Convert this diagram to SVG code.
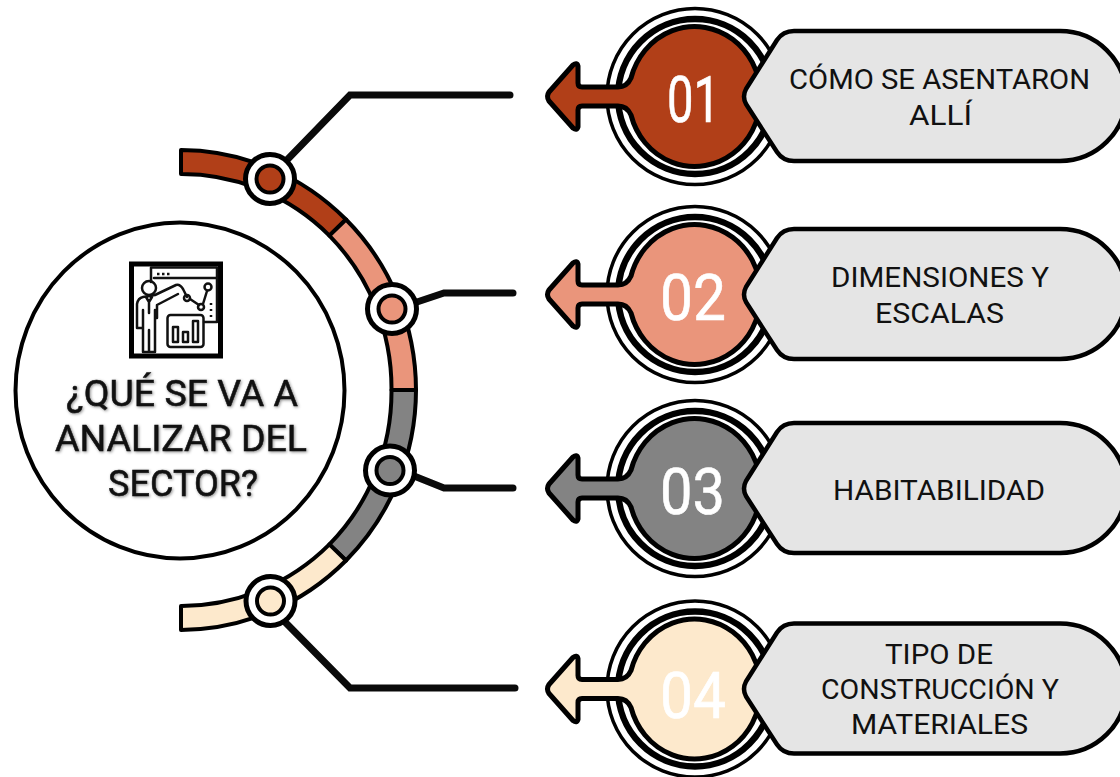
<svg xmlns="http://www.w3.org/2000/svg" xmlns:xlink="http://www.w3.org/1999/xlink" width="1120" height="777" viewBox="0 0 1120 777">
<style>
text{font-family:Roboto,"Liberation Sans",sans-serif;text-anchor:middle}
.t{font-size:28px;fill:#111}
.h{font-size:37px;font-weight:400;fill:#111;stroke:#111;stroke-width:.5px;filter:drop-shadow(1px 1px 1.5px rgba(0,0,0,.45))}
.n{font-size:64px;fill:#fff;stroke:#fff;stroke-width:.6px;font-weight:400}
.conn{fill:none;stroke:#0a0a0a;stroke-width:7;stroke-linecap:round;stroke-linejoin:miter}
.seg{stroke:#000;stroke-width:4;stroke-linejoin:round}
.dotO{fill:#fff;stroke:#000;stroke-width:5}
.dotI{stroke:#000;stroke-width:4}
.ring{fill:#fff;stroke:#000}
.blob{stroke:#000;stroke-width:5;stroke-linejoin:round}
.pill{fill:#e5e5e5;stroke:#000;stroke-width:4.5;stroke-linejoin:round}
.ic{fill:none;stroke:#111;stroke-width:2.500;stroke-linejoin:round;stroke-linecap:round}
.a{fill:#b13f18}.b{fill:#ea957b}.c{fill:#838383}.d{fill:#fde9cc}
</style>
<defs>
<g id="rings">
<ellipse class="ring" cx="695" cy="96.5" rx="88" ry="88" stroke-width="3.500"/>
<ellipse class="ring" cx="695" cy="96.5" rx="77" ry="77.5" stroke-width="6.500"/>
</g>
<path id="blob" d="M631 78Q627 87 618 87L582 87Q578 87 578 83L578 66Q577 62 573 65L549 92Q546 96.5 549 101L573 128Q577 131 578 127L578 110Q578 106 582 106L618 106Q627 106 631 115A66 70 0 1 0 631 78Z"/>
<path id="pill" d="M746 89L777 40Q783 31 794 31L1060 31A66 65 0 0 1 1060 161L794 161Q783 161 777 152L746 104Q742 96.5 746 89Z"/>
</defs>

<g id="connectors">
<path class="conn" d="M285 162L350 95L510 95"/>
<path class="conn" d="M414 303L444 293L513 293"/>
<path class="conn" d="M414 476L444 488L513 488"/>
<path class="conn" d="M285 622L350 688L515 688"/>
</g>

<g id="arc">
<path class="seg a" d="M181 150A236 240.500 0 0 1 346 219.500L329.400 235.600A211.500 216 0 0 0 181 174Z"/>
<path class="seg b" d="M346 219.500A236 240.500 0 0 1 416 390L391.500 390A211.500 216 0 0 0 329.400 235.600Z"/>
<path class="seg c" d="M416 390A236 240.500 0 0 1 346 560.500L329.400 544.400A211.500 216 0 0 0 391.500 390Z"/>
<path class="seg d" d="M346 560.500A236 240.500 0 0 1 181 630L181 606A211.500 216 0 0 0 329.400 544.400Z"/>
</g>

<g id="dot1"><circle class="dotO" cx="270" cy="179" r="24.500"/><circle class="dotI a" cx="270" cy="179" r="13.500"/></g>
<g id="dot2"><circle class="dotO" cx="392" cy="309" r="24.500"/><circle class="dotI b" cx="392" cy="309" r="13.500"/></g>
<g id="dot3"><circle class="dotO" cx="390" cy="470.500" r="24.500"/><circle class="dotI c" cx="390" cy="470.500" r="13.500"/></g>
<g id="dot4"><circle class="dotO" cx="270.500" cy="601" r="24.500"/><circle class="dotI d" cx="270.500" cy="601" r="13.500"/></g>

<g id="center">
<ellipse cx="180" cy="390.500" rx="164.500" ry="168" fill="#fff" stroke="#000" stroke-width="4"/>
<rect x="131.500" y="264" width="89" height="92" fill="#fff" stroke="#000" stroke-width="5"/>
<path class="ic" d="M151 282V267.500H217V322H204M154 278H217"/>
<path d="M157 274h2.500M162 274h2.500M167 274h2.500M211 303v2M211 309v2M211 315v2" stroke="#111" stroke-width="2.500" fill="none"/>
<circle class="ic" cx="149" cy="288" r="7" fill="#fff"/>
<path class="ic" d="M137 304Q138 298 143 297L155 295L176 285Q180 284 183 289L187 297M157 305L178 294M137 304V328M143 310V352H149V330M149 330V352H155V310M157 305V318M137 328H143M146 297L149 302L152 297M149 302V313"/>
<circle class="ic" cx="187" cy="298" r="3" fill="#fff"/>
<circle class="ic" cx="201" cy="307" r="3" fill="#fff"/>
<circle class="ic" cx="208" cy="287" r="3.500" fill="#fff"/>
<path class="ic" d="M190 299L199 305M203 304L207 291"/>
<rect class="ic" x="167.500" y="315" width="36" height="32" rx="3" fill="#fff"/>
<path class="ic" d="M173 342V327H178V342H173ZM183 342V332H188V342ZM193 342V321H198V342Z"/>
<text class="h" x="182" y="406" textLength="232" lengthAdjust="spacingAndGlyphs">¿QUÉ SE VA A</text>
<text class="h" x="181" y="451" textLength="252" lengthAdjust="spacingAndGlyphs">ANALIZAR DEL</text>
<text class="h" x="183" y="496" textLength="150" lengthAdjust="spacingAndGlyphs">SECTOR?</text>
</g>

<g id="item1">
<use xlink:href="#rings"/>
<use xlink:href="#blob" class="blob a"/>
<text class="n" x="693.500" y="122" textLength="53" lengthAdjust="spacingAndGlyphs">01</text>
<use xlink:href="#pill" class="pill"/>
<text class="t" x="939.500" y="89" textLength="301" lengthAdjust="spacingAndGlyphs">CÓMO SE ASENTARON</text>
<text class="t" x="940.500" y="125" textLength="63" lengthAdjust="spacingAndGlyphs">ALLÍ</text>
</g>
<g id="item2">
<g transform="translate(0 198)"><use xlink:href="#rings"/><use xlink:href="#blob" class="blob b"/></g>
<text class="n" x="693" y="320" textLength="66" lengthAdjust="spacingAndGlyphs">02</text>
<g transform="translate(0 198)"><use xlink:href="#pill" class="pill"/></g>
<text class="t" x="940" y="287" textLength="218" lengthAdjust="spacingAndGlyphs">DIMENSIONES Y</text>
<text class="t" x="939.500" y="323" textLength="129" lengthAdjust="spacingAndGlyphs">ESCALAS</text>
</g>
<g id="item3">
<g transform="translate(0 392)"><use xlink:href="#rings"/><use xlink:href="#blob" class="blob c"/></g>
<text class="n" x="692.500" y="514" textLength="65" lengthAdjust="spacingAndGlyphs">03</text>
<g transform="translate(0 392)"><use xlink:href="#pill" class="pill"/></g>
<text class="t" x="939" y="500" textLength="212" lengthAdjust="spacingAndGlyphs">HABITABILIDAD</text>
</g>
<g id="item4">
<g transform="translate(0 592.500)"><use xlink:href="#rings"/><use xlink:href="#blob" class="blob d"/></g>
<text class="n" x="693" y="718" textLength="66" lengthAdjust="spacingAndGlyphs">04</text>
<g transform="translate(0 592.500)"><use xlink:href="#pill" class="pill"/></g>
<text class="t" x="939" y="664" textLength="108" lengthAdjust="spacingAndGlyphs">TIPO DE</text>
<text class="t" x="940" y="699" textLength="238" lengthAdjust="spacingAndGlyphs">CONSTRUCCIÓN Y</text>
<text class="t" x="939.500" y="734" textLength="177" lengthAdjust="spacingAndGlyphs">MATERIALES</text>
</g>
</svg>
